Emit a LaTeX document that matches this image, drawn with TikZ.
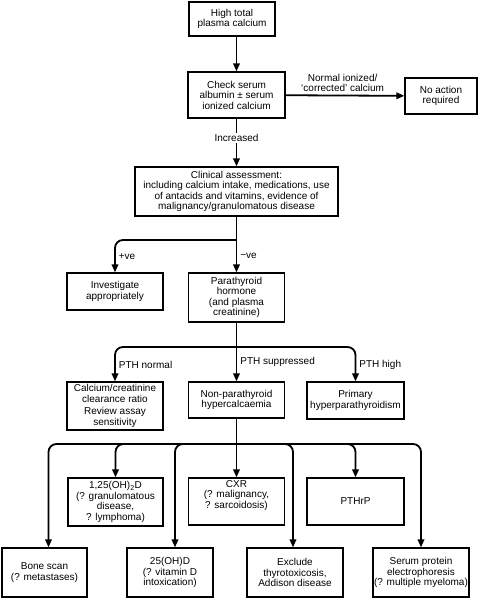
\documentclass[tikz,border=0pt]{standalone}
\usepackage{fontspec}
\setmainfont{Liberation Sans}
\usetikzlibrary{arrows.meta}

\begin{document}
\begin{tikzpicture}[
  x=1pt, y=-1pt,
  >={Triangle[length=8pt,width=6.5pt]},
  box/.style={draw, line width=1.2pt, align=center, inner sep=1pt, minimum width=96pt, minimum height=48pt, font=\fontsize{10}{10.5}\selectfont},
  link/.style={->, line width=1.8pt},
  lbl/.style={font=\fontsize{10}{10.5}\selectfont, inner sep=3pt}
]
\useasboundingbox (0,0) rectangle (479,600);

% Top of the chart
\node[box, minimum width=86pt, minimum height=34pt] (high) at (232,19) {High total\\plasma calcium};
\node[box, minimum width=97pt, minimum height=46pt] (check) at (236.5,95) {Check serum\\albumin ± serum\\ionized calcium};
\node[box, minimum width=72pt, minimum height=36pt] (noact) at (441,96) {No action\\required};
\node[box, minimum width=203pt, minimum height=49pt] (clin) at (236.5,191.5) {Clinical assessment:\\including calcium intake, medications, use\\of antacids and vitamins, evidence of\\malignancy/granulomatous disease};

% Second level
\node[box, minimum height=37pt] (invest) at (115,291.5) {Investigate\\appropriately};
\node[box, minimum height=49pt] (pth) at (236.5,297.5) {Parathyroid\\hormone\\(and plasma\\creatinine)};

% PTH results
\node[box] (ratio) at (115,406) {Calcium/creatinine\\clearance ratio\\[2pt]Review assay\\sensitivity};
\node[box, minimum height=36pt] (nonpth) at (236.5,400) {Non-parathyroid\\hypercalcaemia};
\node[box, minimum width=97pt, minimum height=37pt] (primary) at (355.5,400.5) {Primary\\hyperparathyroidism};

% Tests, upper row
\node[box, minimum width=95pt] (dihyd) at (115.5,502) {1,25(OH)\textsubscript{2}D\\(? granulomatous\\disease,\\? lymphoma)};
\node[box, minimum height=47pt] (cxr) at (236.5,501.5) {CXR\\(? malignancy,\\? sarcoidosis)\\[4pt]};
\node[box, minimum width=97pt, minimum height=47pt] (pthrp) at (355.5,501.5) {PTHrP};

% Tests, lower row
\node[box, minimum width=85pt, minimum height=49pt] (bone) at (44.5,572.5) {Bone scan\\(? metastases)};
\node[box, minimum width=86pt, minimum height=49pt] (vitd) at (170,572.5) {25(OH)D\\(? vitamin D\\intoxication)};
\node[box, minimum height=49pt] (excl) at (295,572.5) {Exclude\\thyrotoxicosis,\\Addison disease};
\node[box, minimum height=49pt] (serum) at (421,572.5) {Serum protein\\electrophoresis\\(? multiple myeloma)};

% Branch points
\coordinate (b1) at (236.5,240);
\coordinate (b2) at (236.5,347);
\coordinate (b3) at (236.5,444);

% Main line
\draw[link] (check.north |- high.south) -- (check.north);
\draw[link] (check) -- node[lbl, above, align=center, pos=0.48] {Normal ionized/\\`corrected' calcium} (noact);
\draw[link] (check) -- node[lbl, fill=white, inner sep=1.5pt, pos=0.4] {Increased} (clin);
\draw[link] (clin) -- node[lbl, right, pos=0.7] {−ve} (pth);
\draw[link, rounded corners=8pt] (b1) -| node[lbl, right, pos=0.76] {+ve} (invest.north);

% PTH branches
\draw[link] (pth) -- node[lbl, right, pos=0.67] {PTH suppressed} (nonpth);
\draw[link, rounded corners=8pt] (b2) -| node[lbl, right, pos=0.76] {PTH normal} (ratio.north);
\draw[link, rounded corners=8pt] (b2) -| node[lbl, right, pos=0.76] {PTH high} (primary.north);

% Tests
\draw[link] (nonpth) -- (cxr);
\draw[link, rounded corners=8pt] (b3) -| ([xshift=4pt]bone.north);
\draw[link, rounded corners=8pt] (b3) -| (dihyd.north);
\draw[link, rounded corners=8pt] (b3) -| ([xshift=5pt]vitd.north);
\draw[link, rounded corners=8pt] (b3) -| ([xshift=-2pt]excl.north);
\draw[link, rounded corners=8pt] (b3) -| (pthrp.north);
\draw[link, rounded corners=8pt] (b3) -| (serum.north);
\end{tikzpicture}
\end{document}
